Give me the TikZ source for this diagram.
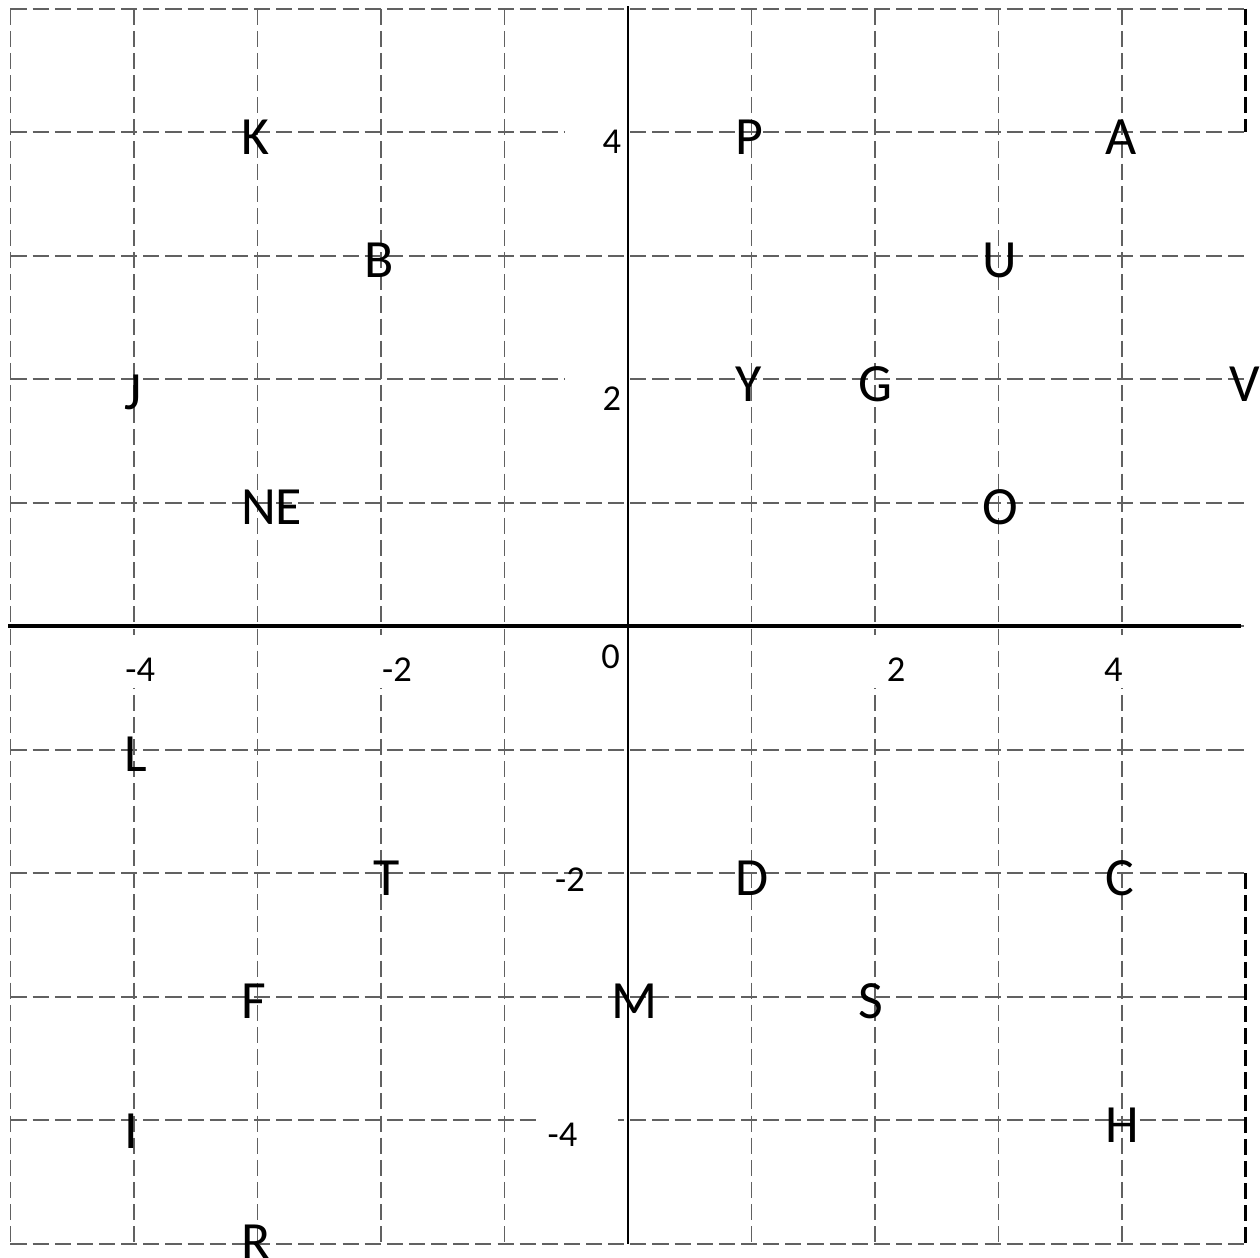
\documentclass[tikz,border=0pt]{standalone}
\usepackage{fontspec}
\setmainfont{Carlito}
\usetikzlibrary{calc,positioning}

\begin{document}
\begin{tikzpicture}[x=1cm,y=1cm]

  \tikzstyle{every node}=[inner sep=0pt]
  \tikzstyle{gridline}=[draw=black!62,line width=0.4pt,dash pattern=on 3.7pt off 1.4pt]
  \tikzstyle{edgeline}=[draw=black,line width=0.5pt,dash pattern=on 3.7pt off 1.4pt]
  \tikzstyle{cut}=[fill=white]
  \tikzstyle{point}=[anchor=west,font=\fontsize{12.4}{14}\selectfont,xshift=-0.14cm,yshift=-0.04cm]
  \tikzstyle{tick}=[font=\fontsize{8.4}{10}\selectfont]

  \useasboundingbox (-5.085,-5.11) rectangle (5.117,5.07);

  % grid
  \foreach \i in {-5,...,5}{
    \draw[gridline] (-5,\i) -- (5,\i);
  }
  \foreach \i in {-5,...,4}{
    \draw[gridline] (\i,5) -- (\i,-5);
  }
  \draw[edgeline] (5,5) -- (5,4);
  \draw[edgeline] (5,-2) -- (5,-5);

  % gaps under the numbers
  \fill[cut] (-0.51,3.95) rectangle (-0.024,4.05);
  \fill[cut] (-0.51,1.95) rectangle (-0.024,2.05);
  \fill[cut] (-0.71,-4.05) rectangle (-0.08,-3.95);
  \foreach \i in {-4,-2,2,4}{
    \fill[cut] ($(\i,-0.5)+(-0.05,0)$) rectangle ($(\i,-0.075)+(0.05,0)$);
  }

  % axes
  \draw[line width=0.8pt] (-5.02,0) -- (4.96,0);
  \draw[line width=0.5pt] (0,5.02) -- (0,-5);

  % numbers
  \node[tick] (y4) at (-0.13,3.92) {4};
  \node[tick] (y2) at (-0.13,1.84) {2};
  \node[tick] (o) at (-0.14,-0.25) {0};
  \node[tick] (ym2) at (-0.47,-2.05) {-2};
  \node[tick] (ym4) at (-0.53,-4.12) {-4};
  \node[tick] (xm4) at (-3.95,-0.355) {-4};
  \node[tick] (xm2) at (-1.87,-0.355) {-2};
  \node[tick] (x2) at (2.17,-0.355) {2};
  \node[tick] (x4) at (3.93,-0.355) {4};

  % letters
  \node[point] (k) at (-3,4) {K};
  \node[point] (p) at (1,4) {P};
  \node[point] (a) at (4,4) {A};
  \node[point] (b) at (-2,3) {B};
  \node[point] (u) at (3,3) {U};
  \node[point,xshift=0.06cm,yshift=-0.07cm] (j) at (-4,2) {J};
  \node[point] (y) at (1,2) {Y};
  \node[point] (g) at (2,2) {G};
  \node[point] (v) at (5,2) {V};
  \node[point] (ne) at (-3,1) {NE};
  \node[point] (oo) at (3,1) {O};
  \node[point,xshift=0.06cm] (l) at (-4,-1) {L};
  \node[point,xshift=0.07cm] (t) at (-2,-2) {T};
  \node[point] (d) at (1,-2) {D};
  \node[point] (c) at (4,-2) {C};
  \node[point] (f) at (-3,-3) {F};
  \node[point] (m) at (0,-3) {M};
  \node[point] (s) at (2,-3) {S};
  \node[point,xshift=0.06cm,yshift=-0.05cm] (i) at (-4,-4) {I};
  \node[point] (h) at (4,-4) {H};
  \node[point,yshift=0.05cm] (r) at (-3,-5) {R};

\end{tikzpicture}
\end{document}
